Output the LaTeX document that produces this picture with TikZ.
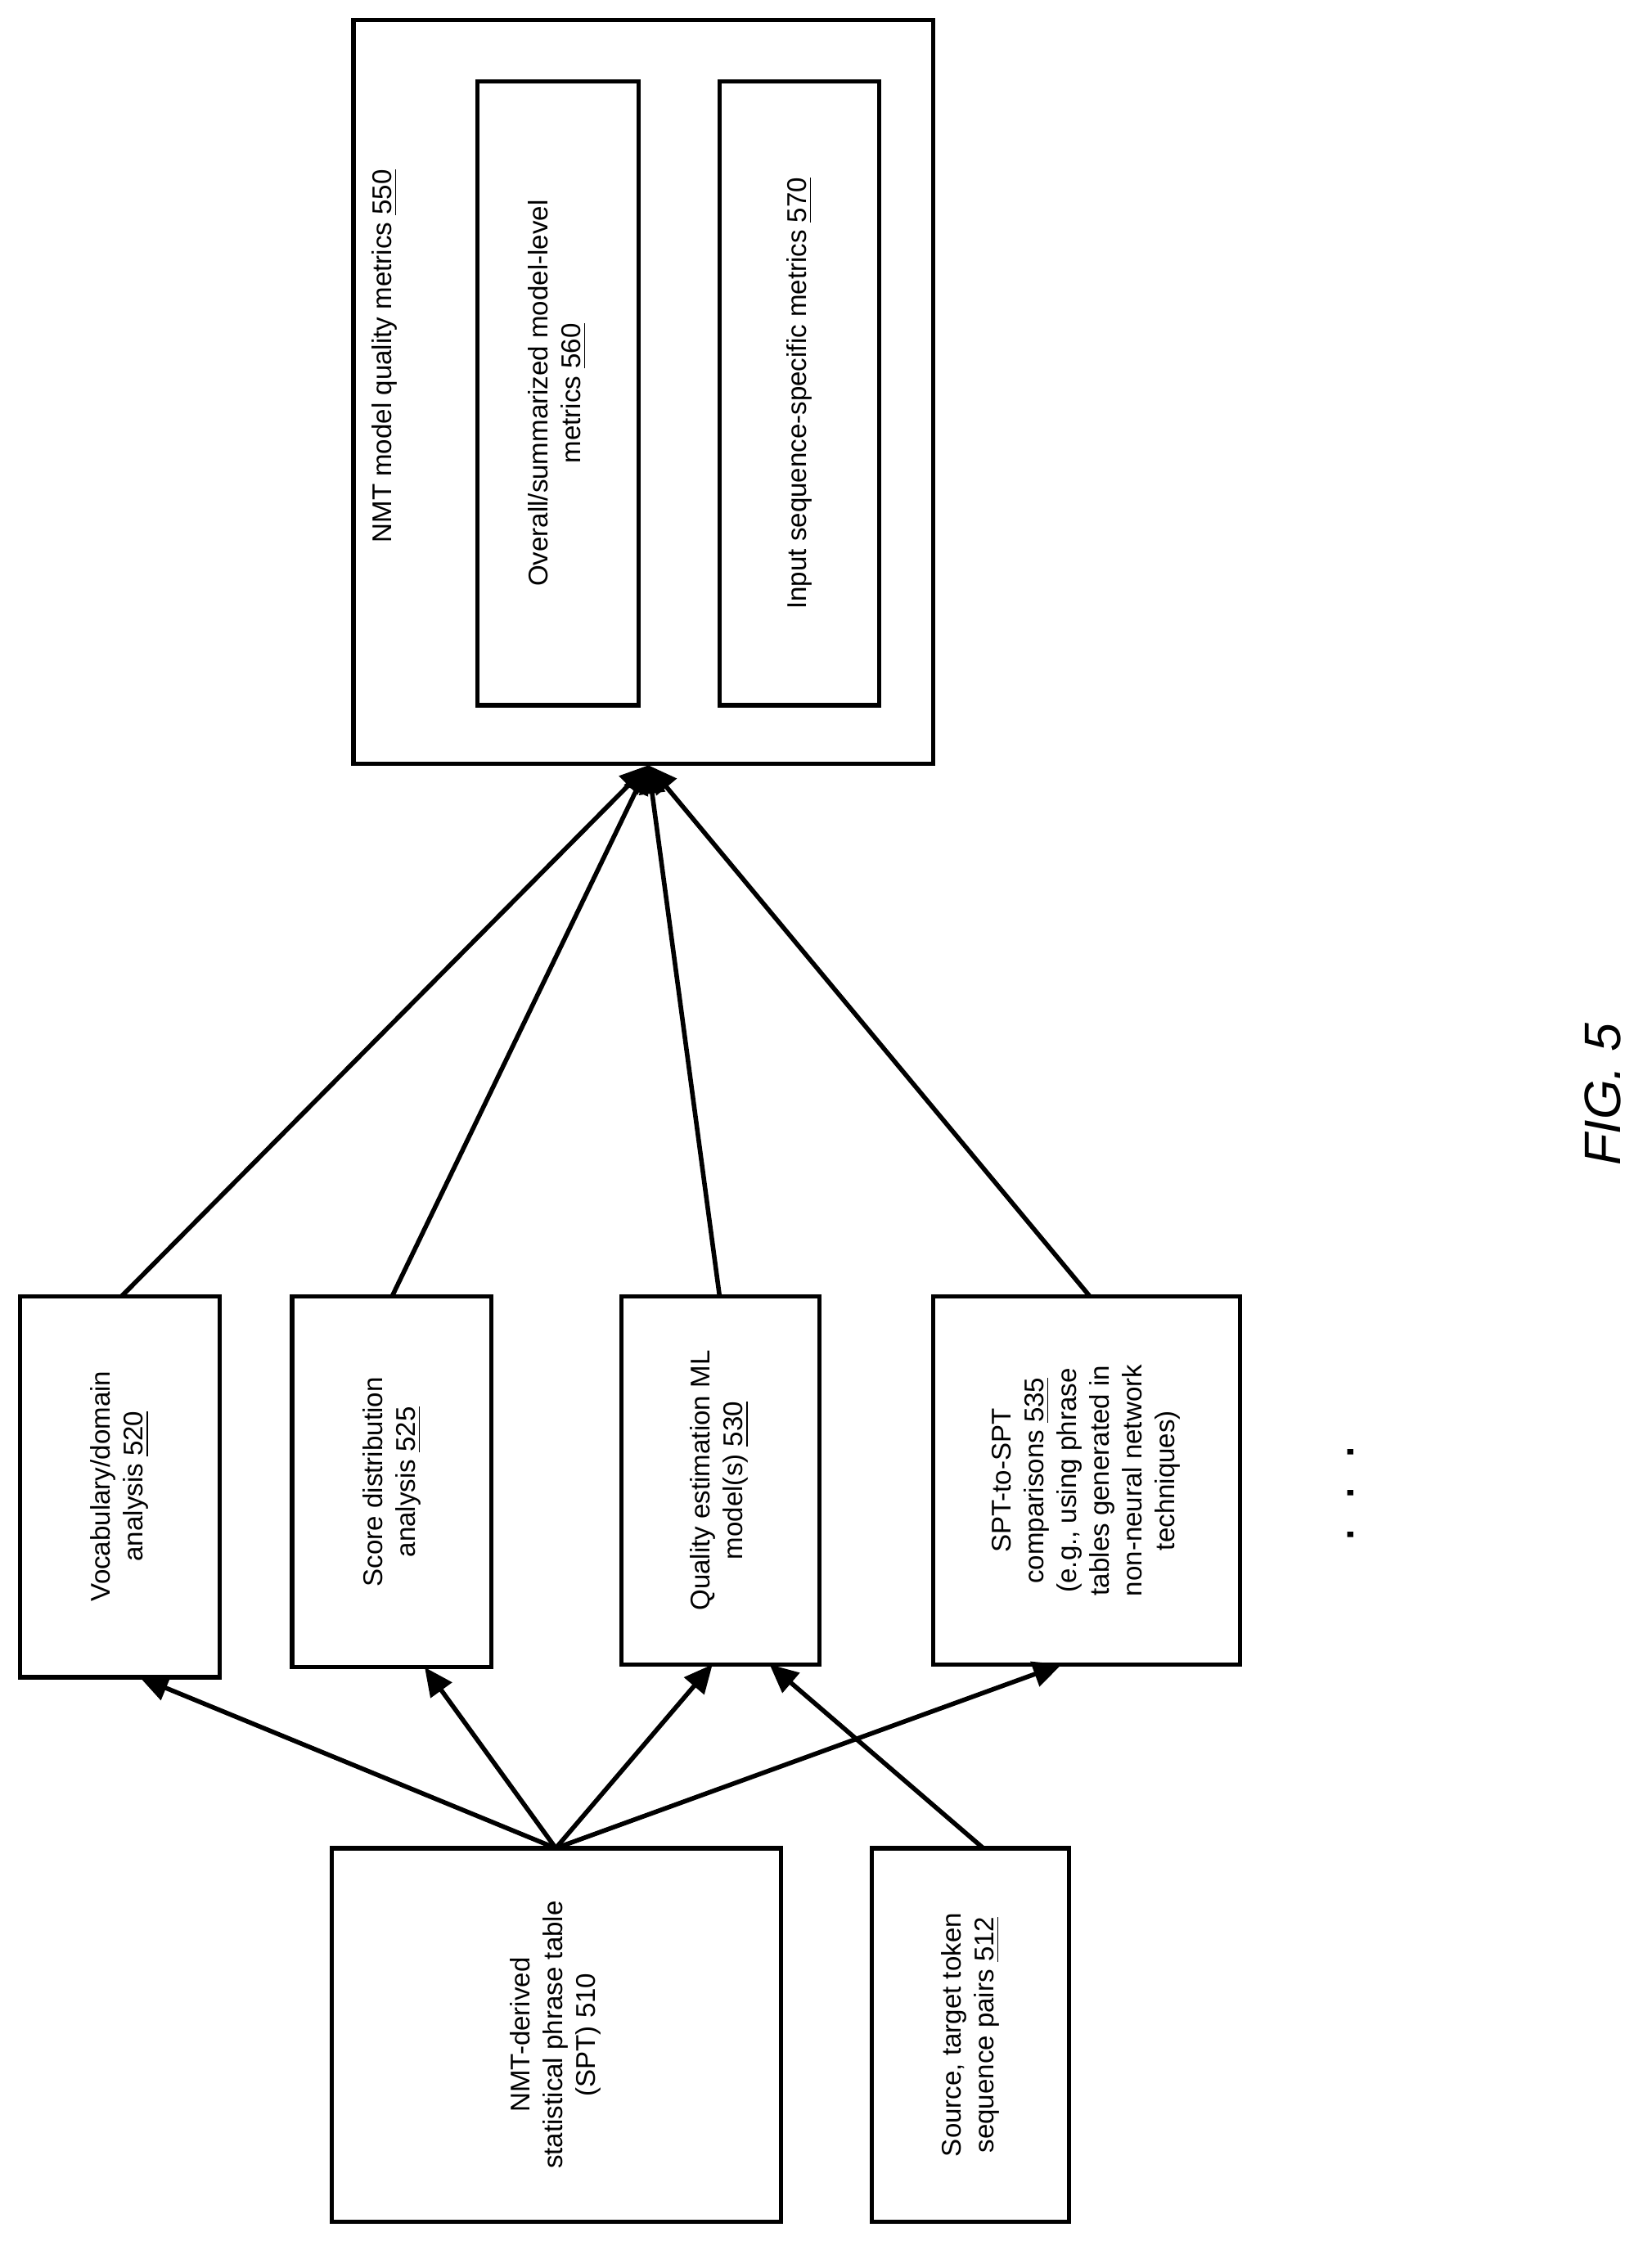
\documentclass[tikz,border=0pt]{standalone}
\usepackage{fontspec}
\setmainfont{Liberation Sans}
\usetikzlibrary{arrows.meta}
\begin{document}
\begin{tikzpicture}[x=0.5pt,y=-0.5pt,
  box/.style={draw,line width=1.5pt},
  lab/.style={rotate=90,align=center,font=\fontsize{9.5}{11.5}\selectfont},
  arr/.style={line width=1.6pt,-{Triangle[length=10pt,width=9pt]}}]
\useasboundingbox (0,0) rectangle (1159,1579);
% boxes
\draw[box] (248,14) rectangle (655,536);
\draw[box] (335,57) rectangle (448,495);
\draw[box] (505,57) rectangle (617,495);
\draw[box] (14,910) rectangle (154,1177);
\draw[box] (205,910) rectangle (345,1170);
\draw[box] (436,910) rectangle (575,1168);
\draw[box] (655,910) rectangle (870,1168);
\draw[box] (233,1297) rectangle (548,1559);
\draw[box] (612,1297) rectangle (750,1559);
% labels
\node[lab] (n550) at (270,250) {NMT model quality metrics \underline{550}};
\node[lab] (n560) at (391,276) {Overall/summarized model-level\\metrics \underline{560}};
\node[lab] (n570) at (561,276) {Input sequence-specific metrics \underline{570}};
\node[lab] (n520) at (84,1043) {Vocabulary/domain\\analysis \underline{520}};
\node[lab] (n525) at (275,1040) {Score distribution\\analysis \underline{525}};
\node[lab] (n530) at (505,1039) {Quality estimation ML\\model(s) \underline{530}};
\node[lab] (n535) at (762,1039) {SPT-to-SPT\\comparisons \underline{535}\\(e.g., using phrase\\tables generated in\\non-neural network\\techniques)};
\node[lab] (n510) at (390,1428) {NMT-derived\\statistical phrase table\\(SPT) 510};
\node[lab] (n512) at (681,1428) {Source, target token\\sequence pairs \underline{512}};
\node[rotate=90,font=\fontsize{18}{20}\selectfont\itshape] (fig) at (1125,768) {FIG. 5};
\node[rotate=90,font=\fontsize{20}{20}\selectfont] (dots) at (948,1048) {.\hspace{9pt}.\hspace{9pt}.};
% coordinates
\coordinate (t550) at (455,537);
\coordinate (a520) at (85,910);
\coordinate (a525) at (275,910);
\coordinate (a530) at (505,910);
\coordinate (a535) at (765,910);
\coordinate (b520) at (98,1177);
\coordinate (b525) at (298,1170);
\coordinate (b530) at (500,1168);
\coordinate (c530) at (540,1168);
\coordinate (b535) at (745,1168);
\coordinate (s510) at (390,1297);
\coordinate (s512) at (690,1297);
% arrows
\foreach \a in {a520,a525,a530,a535} \draw[arr] (\a) -- (t550);
\foreach \b in {b520,b525,b530,b535} \draw[arr] (s510) -- (\b);
\draw[arr] (s512) -- (c530);
\end{tikzpicture}
\end{document}
